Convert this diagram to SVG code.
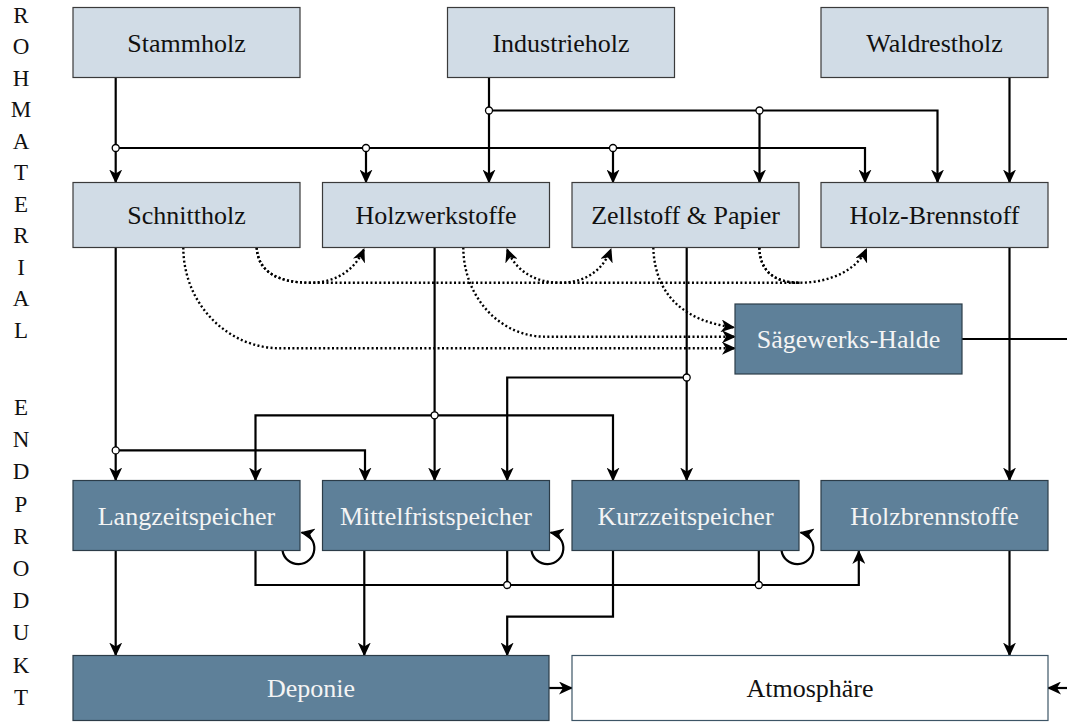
<svg xmlns="http://www.w3.org/2000/svg" width="1067" height="722" viewBox="0 0 1067 722" font-family="'Liberation Serif', 'Times New Roman', Times, 'DejaVu Serif', serif">
<style>
.lt{fill:#d1dce6;stroke:#3a3a3a;stroke-width:1.2}
.dk{fill:#5e8099;stroke:#2c3c48;stroke-width:1.2}
.wh{fill:#ffffff;stroke:#3d5566;stroke-width:1.2}
text{font-family:'Liberation Serif','Times New Roman',Times,'DejaVu Serif',serif;font-size:26px;text-anchor:middle}
.tl{fill:#111111}
.td{fill:#f4f4f4}
.side{font-size:23px;fill:#111111}
.c{fill:none;stroke:#000;stroke-width:2.2}
.a{marker-end:url(#ah)}
.d{fill:none;stroke:#000;stroke-width:2.4;stroke-dasharray:2 2.4}
.j{fill:#fff;stroke:#000;stroke-width:1.3}
</style>
<defs>
<marker id="ah" viewBox="0 0 14 13" refX="13" refY="6.5" markerWidth="14" markerHeight="13" orient="auto" markerUnits="userSpaceOnUse">
<path d="M0,0 L14,6.5 L0,13 L4,6.5 Z" fill="#000"/>
</marker>
</defs>

<g id="side-labels" font-family="'Liberation Serif', 'Times New Roman', serif">
<text class="side" x="21" y="22.5">R</text>
<text class="side" x="21" y="54">O</text>
<text class="side" x="21" y="85.5">H</text>
<text class="side" x="21" y="117">M</text>
<text class="side" x="21" y="148.5">A</text>
<text class="side" x="21" y="180">T</text>
<text class="side" x="21" y="211.5">E</text>
<text class="side" x="21" y="243">R</text>
<text class="side" x="21" y="274.5">I</text>
<text class="side" x="21" y="306">A</text>
<text class="side" x="21" y="337.5">L</text>
<text class="side" x="21" y="415">E</text>
<text class="side" x="21" y="447.2">N</text>
<text class="side" x="21" y="479.4">D</text>
<text class="side" x="21" y="511.6">P</text>
<text class="side" x="21" y="543.8">R</text>
<text class="side" x="21" y="576">O</text>
<text class="side" x="21" y="608.2">D</text>
<text class="side" x="21" y="640.4">U</text>
<text class="side" x="21" y="672.6">K</text>
<text class="side" x="21" y="704.8">T</text>
</g>

<g id="connectors">
<path class="c a" d="M115.7,77.5 V182.5"/>
<path class="c a" d="M115.7,148 H865 V182.5"/>
<path class="c a" d="M366,148 V182.5"/>
<path class="c a" d="M613,148 V182.5"/>
<path class="c a" d="M489,77.5 V182.5"/>
<path class="c a" d="M489,110.5 H937.5 V182.5"/>
<path class="c a" d="M759.5,110.5 V182.5"/>
<path class="c a" d="M1009.5,77.5 V182.5"/>
<path class="c a" d="M115.7,247.5 V480.5"/>
<path class="c a" d="M115.7,450.4 H365 V480.5"/>
<path class="c a" d="M434.6,247.5 V480.5"/>
<path class="c a" d="M434.6,415.3 H255.5 V480.5"/>
<path class="c a" d="M434.6,415.3 H613 V480.5"/>
<path class="c a" d="M686.7,247.5 V480.5"/>
<path class="c a" d="M686.7,377.5 H507.2 V480.5"/>
<path class="c a" d="M1009.5,247.5 V480.5"/>
<path class="c" d="M962,339 H1067"/>
<path class="d a" d="M256.7,247.5 C258,272 278,282.7 310,282.7 C338,282.7 356,268 364,249"/>
<path class="d a" d="M256.7,247.5 C258,272 278,282.7 310,282.7 L560,282.7 C588,282.7 604,268 611,249"/>
<path class="d a" d="M759.3,247.5 C760,272 775,282.7 800,282.7 L560,282.7 C532,282.7 514,268 507,249"/>
<path class="d a" d="M759.3,247.5 C760,272 775,282.7 800,282.7 C830,282.7 857,270 866.5,249"/>
<path class="d a" d="M183.3,247.5 A97,100.8 0 0 0 280.3,348.3 L735,348.3"/>
<path class="d a" d="M463.3,247.5 A81.7,89.2 0 0 0 545,336.7 L735,336.7"/>
<path class="d a" d="M653.3,247.5 C655,300 690,322 734,327.5"/>
<path class="c a" d="M115.7,550.5 V655.5"/>
<path class="c a" d="M364.3,550.5 V655.5"/>
<path class="c a" d="M255.5,550.5 V585 H858.8 V551"/>
<path class="c" d="M507.2,550.5 V585"/>
<path class="c" d="M758.8,550.5 V585"/>
<path class="c a" d="M613,550.5 V616.6 H507.2 V655.5"/>
<path class="c a" d="M1009.5,550.5 V655.5"/>
<path class="c a" d="M282.5,550.5 A16,16 0 1 0 301.5,532.5"/>
<path class="c a" d="M531.5,550.5 A16,16 0 1 0 550.5,532.5"/>
<path class="c a" d="M781.5,550.5 A16,16 0 1 0 800.5,532.5"/>
<path class="c a" d="M549,688 H572"/>
<path class="c a" d="M1067,688 H1048"/>
<circle class="j" cx="115.7" cy="148" r="3.5"/>
<circle class="j" cx="366" cy="148" r="3.5"/>
<circle class="j" cx="613" cy="148" r="3.5"/>
<circle class="j" cx="489" cy="110.5" r="3.5"/>
<circle class="j" cx="759.5" cy="110.5" r="3.5"/>
<circle class="j" cx="115.7" cy="450.4" r="3.5"/>
<circle class="j" cx="434.6" cy="415.3" r="3.5"/>
<circle class="j" cx="686.7" cy="377.5" r="3.5"/>
<circle class="j" cx="507.2" cy="585" r="3.5"/>
<circle class="j" cx="758.8" cy="585" r="3.5"/>
</g>

<g id="stammholz"><rect class="lt" x="73" y="7.5" width="227" height="70"/><text class="tl" x="186.5" y="51.5">Stammholz</text></g>
<g id="industrieholz"><rect class="lt" x="447.5" y="7.5" width="227" height="70"/><text class="tl" x="561" y="51.5">Industrieholz</text></g>
<g id="waldrestholz"><rect class="lt" x="821" y="7.5" width="227" height="70"/><text class="tl" x="934.5" y="51.5">Waldrestholz</text></g>

<g id="schnittholz"><rect class="lt" x="73" y="182.5" width="227" height="65"/><text class="tl" x="186.5" y="224">Schnittholz</text></g>
<g id="holzwerkstoffe"><rect class="lt" x="322.5" y="182.5" width="227" height="65"/><text class="tl" x="436" y="224">Holzwerkstoffe</text></g>
<g id="zellstoff"><rect class="lt" x="572" y="182.5" width="227" height="65"/><text class="tl" x="685.5" y="224">Zellstoff &amp; Papier</text></g>
<g id="holz-brennstoff"><rect class="lt" x="821" y="182.5" width="227" height="65"/><text class="tl" x="934.5" y="224">Holz-Brennstoff</text></g>

<g id="saegewerks-halde"><rect class="dk" x="735" y="304" width="227" height="70"/><text class="td" x="848.5" y="348">Sägewerks-Halde</text></g>

<g id="langzeitspeicher"><rect class="dk" x="73" y="480.5" width="227" height="70"/><text class="td" x="186.5" y="524.5">Langzeitspeicher</text></g>
<g id="mittelfristspeicher"><rect class="dk" x="322.5" y="480.5" width="227" height="70"/><text class="td" x="436" y="524.5">Mittelfristspeicher</text></g>
<g id="kurzzeitspeicher"><rect class="dk" x="572" y="480.5" width="227" height="70"/><text class="td" x="685.5" y="524.5">Kurzzeitspeicher</text></g>
<g id="holzbrennstoffe"><rect class="dk" x="821" y="480.5" width="227" height="70"/><text class="td" x="934.5" y="524.5">Holzbrennstoffe</text></g>

<g id="deponie"><rect class="dk" x="73" y="655.5" width="476" height="65"/><text class="td" x="311" y="697">Deponie</text></g>
<g id="atmosphaere"><rect class="wh" x="572" y="655.5" width="476" height="65"/><text class="tl" x="810" y="697">Atmosphäre</text></g>
</svg>
